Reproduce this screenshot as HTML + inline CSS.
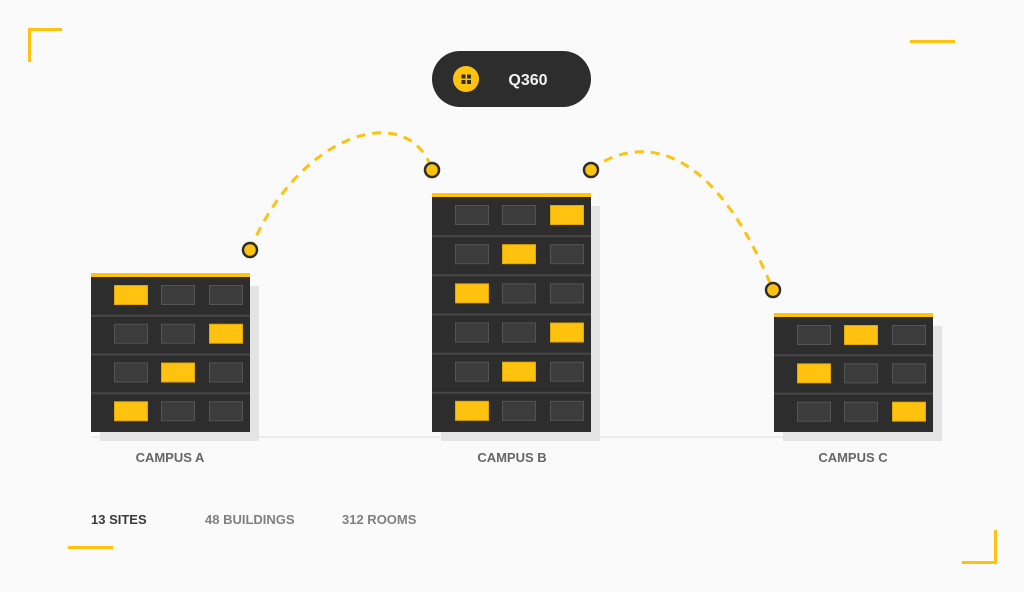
<!DOCTYPE html>
<html><head><style>
html,body{margin:0;padding:0;background:#fafafa}
svg{display:block}
text{font-family:"Liberation Sans",sans-serif;font-weight:bold}
</style></head><body>
<svg width="1024" height="592" viewBox="0 0 1024 592" xmlns="http://www.w3.org/2000/svg">
<rect width="1024" height="592" fill="#fafafa"/>
<g stroke="#ffc20e" stroke-width="3" fill="none">
<path d="M29.5 62 V29.5 H62"/>
<path d="M910 41.5 H955"/>
<path d="M68 547.5 H113"/>
<path d="M995.5 530 V562.5 H962"/>
</g>
<line x1="91" y1="437" x2="940" y2="437" stroke="#ebebeb" stroke-width="2"/>
<g stroke="#ffc20e" stroke-width="3" fill="none" stroke-dasharray="9 7">
<path d="M250 250 C300 130 410 100 432 170"/>
<path d="M591 170 C615 150 700 110 773 290"/>
</g>
<g fill="#ffc20e" stroke="#2d2d2d" stroke-width="2.5">
<circle cx="250" cy="250" r="7"/><circle cx="432" cy="170" r="7"/>
<circle cx="591" cy="170" r="7"/><circle cx="773" cy="290" r="7"/>
</g>
<rect x="432" y="51" width="159" height="56" rx="28" fill="#2d2d2d"/>
<circle cx="466" cy="79" r="13" fill="#ffc20e"/>
<g fill="#2d2d2d"><rect x="461.5" y="74.5" width="4" height="4"/><rect x="467" y="74.5" width="4" height="4"/><rect x="461.5" y="80" width="4" height="4"/><rect x="467" y="80" width="4" height="4"/></g>
<text x="528" y="85" font-size="16" fill="#f2f2f2" text-anchor="middle">Q360</text>
<g id="bldgs"></g>
<text x="170" y="462" font-size="13" fill="#666" text-anchor="middle">CAMPUS A</text>
<text x="512" y="462" font-size="13" fill="#666" text-anchor="middle">CAMPUS B</text>
<text x="853" y="462" font-size="13" fill="#666" text-anchor="middle">CAMPUS C</text>
<text x="91" y="524" font-size="13" fill="#3a3a3a">13 SITES</text>
<text x="205" y="524" font-size="13" fill="#808080">48 BUILDINGS</text>
<text x="342" y="524" font-size="13" fill="#808080">312 ROOMS</text>
</svg>
<script>
var g=document.getElementById('bldgs'),s='';
function b(x,top,pat){
 var h=432-top-4,n=pat.length,fh=h/n;
 s+='<rect x="'+(x+9)+'" y="'+(top+13)+'" width="159" height="'+(h)+'" fill="#e4e4e4"/>';
 s+='<rect x="'+x+'" y="'+(top+4)+'" width="159" height="'+h+'" fill="#2d2d2d"/>';
 s+='<rect x="'+x+'" y="'+top+'" width="159" height="4" fill="#ffc20e"/>';
 var cx=[23,70,118];
 for(var i=0;i<n;i++){var fy=top+4+i*fh;
  if(i>0)s+='<rect x="'+x+'" y="'+(fy-1)+'" width="159" height="2" fill="#474747"/>';
  for(var c=0;c<3;c++){var y=fy+8,on=pat[i]==c;
   s+='<rect x="'+(x+cx[c]+0.5)+'" y="'+(y+0.5)+'" width="33" height="19" fill="'+(on?'#ffc20e':'#3c3c3c')+'" stroke="'+(on?'#e0a800':'#555')+'" stroke-width="1"/>';}}
}
b(91,273,[0,2,1,0]);b(432,193,[2,1,0,2,1,0]);b(774,313,[1,0,2]);
g.innerHTML=s;
</script>
</body></html>
